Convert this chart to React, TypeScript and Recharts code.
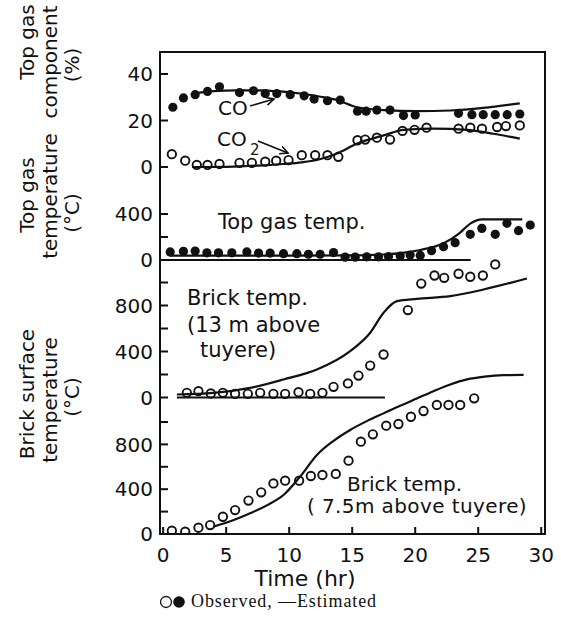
import React from 'react'
import { ComposedChart, Line, Scatter, XAxis, YAxis, ReferenceArea } from 'recharts'

// time axis (hr)
const hourTicks = [0, 5, 10, 15, 20, 25, 30]

// y ticks per panel, and which ones carry a label
const compTicks = [0, 20, 40]
const compLabels = [0, 20, 40]
const gasTempTicks = [0, 200, 400]
const gasTempLabels = [0, 400]
const brickTicks = [0, 200, 400, 600, 800, 1000]
const brickLabels = [0, 400, 800]

// [time hr, value]
const coObserved = [
  [0.77, 25.7], [1.61, 29.7], [2.54, 31.1], [3.52, 32.5], [4.47, 34.5], [6.06, 32], [7.17, 32.8],
  [8.1, 31.6], [9.02, 31.6], [10.08, 31.1], [11.19, 30.6], [11.98, 29.2], [13.04, 28.5], [14.05, 28.8],
  [15.42, 24], [16.11, 24], [16.96, 24.5], [18.0, 24.5], [19.07, 22.1], [20.0, 22.4], [23.44, 23.1],
  [24.5, 22.5], [25.4, 22.5], [26.35, 22.5], [27.3, 22.5], [28.3, 22.8],
]
const coEstimated = [
  [2.4, 31.6], [4, 32.6], [5.8, 33], [7.5, 33], [9.3, 32.5], [11, 31.5], [12.5, 30.2], [13.8, 28.8],
  [15.4, 25.7], [17.5, 24.5], [20.1, 24], [22.8, 24.3], [25.4, 25.4], [28.3, 27.4],
]
const co2Observed = [
  [0.69, 5.5], [1.75, 2.7], [2.67, 0.9], [3.52, 0.9], [4.47, 1.3], [6.06, 1.8], [7.04, 1.8], [8.1, 2.3],
  [8.97, 2.7], [9.95, 3], [11.0, 5.1], [12.06, 5.1], [13.04, 5.1], [13.9, 4.4], [15.42, 11.5],
  [16.03, 11.8], [16.96, 12.6], [18.0, 11.8], [18.99, 15.5], [19.95, 16], [20.9, 16.9], [23.44, 16.5],
  [24.37, 16.9], [25.3, 16.5], [26.5, 17.2], [27.2, 17.6], [28.3, 17.9],
]
const co2Estimated = [
  [2.3, 0], [5.6, 0.2], [7.5, 0.6], [9.5, 1.3], [11, 2], [12.2, 3], [13.8, 5.8], [15.4, 10.1],
  [17.5, 13.6], [19.1, 16], [21.5, 16.5], [24.1, 16], [26.2, 14.3], [28.3, 12.2],
]

const gasTempObserved = [
  [0.56, 70], [1.61, 75], [2.54, 78], [3.47, 62], [4.39, 62], [5.45, 62], [6.64, 70], [7.57, 60],
  [8.49, 60], [9.55, 55], [10.61, 55], [11.53, 50], [12.46, 50], [13.52, 65], [14.44, 25], [15.24, 25],
  [16.16, 28], [17.09, 28], [17.88, 30], [18.81, 35], [19.6, 43], [20.4, 40], [21.3, 81], [22.25, 116],
  [23.17, 151], [24.37, 223], [25.29, 275], [26.35, 223], [27.28, 319], [28.2, 255], [29.13, 304],
]
const gasTempEstimated = [
  [0.5, 38], [5, 38], [10, 38], [15, 40], [17.5, 48], [19, 62], [20.4, 87], [22.25, 145], [23.5, 232],
  [24.4, 319], [25.3, 354], [28.5, 354],
]
const gasTempZero = [[0, 0], [24.4, 0]]

const brick13Observed = [
  [1.88, 41], [2.8, 55], [3.78, 35], [4.74, 41], [5.71, 32], [6.72, 32], [7.7, 41], [8.75, 32],
  [9.68, 32], [10.74, 46], [11.67, 32], [12.64, 41], [13.52, 93], [14.66, 122], [15.5, 191],
  [16.43, 278], [17.49, 374], [19.42, 760], [20.48, 991], [21.53, 1061], [22.3, 1041], [23.44, 1076],
  [24.37, 1050], [25.37, 1061], [26.35, 1157],
]
const brick13Estimated = [
  [1.09, 26], [4, 40], [6.9, 84], [9.55, 157], [12.2, 243], [14.84, 403], [16.43, 563], [17.49, 737],
  [18.55, 838], [20.13, 858], [22.78, 881], [25.42, 939], [28.87, 1035],
]
const brick13Zero = [[1.09, 0], [17.6, 0]]

const brick75Observed = [
  [0.69, 29], [1.75, 21], [2.8, 56], [3.73, 80], [4.74, 154], [5.71, 214], [6.77, 298], [7.78, 372],
  [8.75, 452], [9.68, 476], [10.79, 476], [11.72, 518], [12.64, 527], [13.7, 536], [14.71, 655],
  [15.69, 824], [16.64, 890], [17.7, 967], [18.67, 982], [19.66, 1047], [20.66, 1098], [21.72, 1152],
  [22.64, 1152], [23.57, 1152], [24.68, 1211],
]
const brick75Estimated = [
  [3.99, 65], [5.5, 120], [6.9, 185], [8.3, 260], [9.55, 348], [10.87, 512], [12.2, 705], [13.5, 830],
  [14.84, 929], [16.2, 1010], [17.49, 1077], [18.8, 1145], [20.13, 1210], [21.45, 1275], [22.78, 1335],
  [24.1, 1380], [25.5, 1405], [27, 1418], [28.6, 1420],
]

const pts = (a: number[][]) => a.map(([t, v]) => ({ t, v }))

// page layout
const W = 561
const H = 628
const LEFT = 160
const RIGHT = 545
const TOP = 52
const BOTTOM = 534
const YAXIS_W = 60
const XAXIS_H = 40
const xDomain: [number, number] = [-0.25, 30.3]
const INK = '#111'
const FONT = '"DejaVu Sans", sans-serif'

// each panel shares the plot box; its own zero pixel and scale decide the domain
const yDomain = (zeroPx: number, pxPerUnit: number): [number, number] => [
  -(BOTTOM - zeroPx) / pxPerUnit,
  (zeroPx - TOP) / pxPerUnit,
]

const tickText = { fontSize: 20, fill: INK, fontFamily: FONT }

const FilledDot = (p: any) => <circle cx={p.cx} cy={p.cy} r={4.6} fill={INK} />
const OpenDot = (p: any) => <circle cx={p.cx} cy={p.cy} r={4.2} fill="none" stroke={INK} strokeWidth={1.9} />

function Layer({ zeroPx, pxPerUnit, ticks, labels, bottom = false, children }: any) {
  const domain = yDomain(zeroPx, pxPerUnit)
  return (
    <div style={{ position: 'absolute', left: 0, top: 0 }}>
      <ComposedChart
        width={W}
        height={H}
        margin={{ top: TOP, right: W - RIGHT, bottom: H - BOTTOM - XAXIS_H, left: LEFT - YAXIS_W }}
      >
        <XAxis
          type="number"
          dataKey="t"
          domain={xDomain}
          ticks={hourTicks}
          interval={0}
          height={XAXIS_H}
          axisLine={false}
          tick={bottom ? tickText : false}
          tickLine={bottom ? { stroke: INK, strokeWidth: 2 } : false}
          tickSize={-7}
          tickMargin={21}
          allowDataOverflow
        />
        <YAxis
          type="number"
          dataKey="v"
          domain={domain}
          ticks={ticks}
          interval={0}
          width={YAXIS_W}
          axisLine={false}
          tick={tickText}
          tickLine={{ stroke: INK, strokeWidth: 2 }}
          tickSize={-8}
          tickMargin={15}
          tickFormatter={(v: number) => (labels.includes(v) ? String(v) : '')}
          allowDataOverflow
        />
        {bottom && (
          <ReferenceArea
            x1={xDomain[0]}
            x2={xDomain[1]}
            y1={domain[0]}
            y2={domain[1]}
            fill="none"
            fillOpacity={0}
            stroke={INK}
            strokeWidth={2}
            ifOverflow="visible"
          />
        )}
        {children}
      </ComposedChart>
    </div>
  )
}

const est = (data: number[][], key: string) => (
  <Line
    key={key}
    data={pts(data)}
    dataKey="v"
    type="monotone"
    stroke={INK}
    strokeWidth={2.2}
    dot={false}
    isAnimationActive={false}
  />
)

const obs = (data: number[][], key: string, filled: boolean) => (
  <Scatter key={key} data={pts(data)} dataKey="v" shape={filled ? FilledDot : OpenDot} isAnimationActive={false} />
)

export default function App() {
  const rot = (text: string, x: number, y: number) => (
    <text
      x={x}
      y={y}
      transform={`rotate(-90 ${x} ${y})`}
      textAnchor="middle"
      dominantBaseline="central"
      fontSize={20}
    >
      {text}
    </text>
  )
  return (
    <div style={{ position: 'absolute', left: 0, top: 0, width: W, height: H, background: '#fff' }}>
      <Layer zeroPx={167} pxPerUnit={2.325} ticks={compTicks} labels={compLabels}>
        {est(coEstimated, 'coE')}
        {est(co2Estimated, 'co2E')}
        {obs(coObserved, 'coO', true)}
        {obs(co2Observed, 'co2O', false)}
      </Layer>
      <Layer zeroPx={260} pxPerUnit={0.115} ticks={gasTempTicks} labels={gasTempLabels}>
        {est(gasTempZero, 'gz')}
        {est(gasTempEstimated, 'gE')}
        {obs(gasTempObserved, 'gO', true)}
      </Layer>
      <Layer zeroPx={397.5} pxPerUnit={0.115} ticks={brickTicks} labels={brickLabels}>
        {est(brick13Zero, 'bz')}
        {est(brick13Estimated, 'b13E')}
        {obs(brick13Observed, 'b13O', false)}
      </Layer>
      <Layer zeroPx={534} pxPerUnit={0.112} ticks={brickTicks} labels={brickLabels} bottom>
        {est(brick75Estimated, 'b75E')}
        {obs(brick75Observed, 'b75O', false)}
      </Layer>

      <svg width={W} height={H} style={{ position: 'absolute', left: 0, top: 0 }} fontFamily={FONT} fill={INK}>
        <defs>
          <marker id="head" markerWidth="10" markerHeight="10" refX="8" refY="4" orient="auto" markerUnits="userSpaceOnUse">
            <path d="M0,0 L8,4 L0,8" fill="none" stroke={INK} strokeWidth={1.6} />
          </marker>
        </defs>

        {rot('Top gas', 27, 42)}
        {rot('component', 50, 62)}
        {rot('(%)', 72, 65)}
        {rot('Top gas', 27, 195)}
        {rot('temperature', 50, 196)}
        {rot('(°C)', 72, 213)}
        {rot('Brick  surface', 27, 394)}
        {rot('temperature', 50, 400)}
        {rot('(°C)', 72, 397)}

        <text x={218} y={115} fontSize={20}>CO</text>
        <line x1={250} y1={106} x2={274} y2={99} stroke={INK} strokeWidth={1.6} markerEnd="url(#head)" />
        <text x={217} y={146} fontSize={20}>CO</text>
        <text x={250} y={155} fontSize={15}>2</text>
        <line x1={258} y1={141} x2={288} y2={153} stroke={INK} strokeWidth={1.6} markerEnd="url(#head)" />

        <text x={218} y={229} fontSize={21}>Top gas  temp.</text>

        <text x={187} y={305} fontSize={21}>Brick  temp.</text>
        <text x={187} y={332} fontSize={21}>(13 m above</text>
        <text x={200} y={357} fontSize={21}>tuyere)</text>

        <text x={347} y={491} fontSize={20}>Brick  temp.</text>
        <text x={307} y={513} fontSize={20} letterSpacing={0.4}>( 7.5m above tuyere)</text>

        <text x={305} y={586} fontSize={22} textAnchor="middle">Time (hr)</text>
        <circle cx={166} cy={602} r={5.5} fill="none" stroke={INK} strokeWidth={1.3} />
        <circle cx={179} cy={602} r={5.8} fill={INK} />
        <text x={191} y={607} fontSize={18} letterSpacing={0.9} fontFamily='"Liberation Serif", serif'>
          Observed, —Estimated
        </text>
      </svg>
    </div>
  )
}
